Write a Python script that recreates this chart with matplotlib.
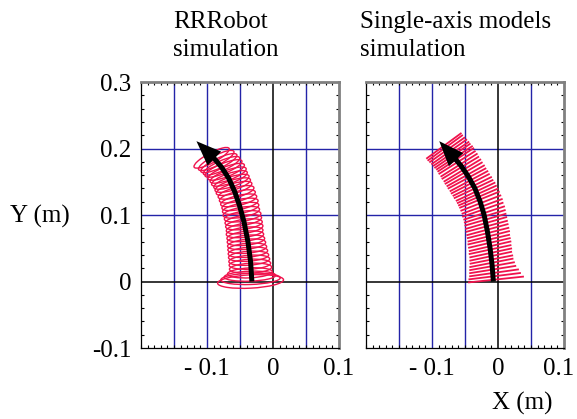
#!/usr/bin/env python3
"""End-effector paths: RRRobot model against single-axis models."""

import matplotlib

matplotlib.use("Agg")
import matplotlib.pyplot as plt
import numpy as np
from matplotlib.collections import LineCollection
from matplotlib.patches import Ellipse
from matplotlib.ticker import FixedFormatter, FixedLocator, MultipleLocator
from matplotlib.transforms import ScaledTranslation

plt.rcParams["font.family"] = ["Liberation Serif", "DejaVu Serif"]
plt.rcParams["font.size"] = 18

RED = "#F0124C"
BLUE = "#2323A8"

# commanded path (arrow), metres; last point is the arrow tip
rr_path_x = [-0.032, -0.034, -0.038, -0.044, -0.051, -0.058, -0.067, -0.078, -0.090, -0.116]
rr_path_y = [0.000, 0.030, 0.060, 0.090, 0.115, 0.135, 0.155, 0.172, 0.186, 0.211]
sa_path_x = [-0.007, -0.009, -0.012, -0.016, -0.021, -0.027, -0.035, -0.045, -0.056, -0.067, -0.089]
sa_path_y = [0.000, 0.025, 0.050, 0.075, 0.100, 0.120, 0.140, 0.158, 0.174, 0.187, 0.211]

# RRRobot: oscillation loops along the path (centre, span, thickness, tilt)
rr_loop_x = [-0.034, -0.034, -0.035, -0.035,
             -0.034, -0.035, -0.036, -0.037, -0.038, -0.039, -0.040, -0.041,
             -0.042, -0.043, -0.043, -0.044, -0.045, -0.046, -0.048, -0.049,
             -0.050, -0.052, -0.054, -0.056, -0.059, -0.061, -0.063, -0.066,
             -0.068, -0.071, -0.075, -0.078, -0.082, -0.086, -0.093]
rr_loop_y = [0.000, 0.004, 0.008, 0.013,
             0.020, 0.026, 0.032, 0.038, 0.044, 0.050, 0.056, 0.062,
             0.068, 0.074, 0.080, 0.086, 0.092, 0.098, 0.104, 0.110,
             0.116, 0.122, 0.128, 0.134, 0.140, 0.145, 0.150, 0.155,
             0.160, 0.165, 0.170, 0.174, 0.178, 0.182, 0.186]
rr_loop_w = [0.100, 0.090, 0.078, 0.068,
             0.064, 0.063, 0.062, 0.061, 0.060, 0.059, 0.058, 0.057,
             0.056, 0.056, 0.056, 0.056, 0.056, 0.056, 0.056, 0.056,
             0.056, 0.056, 0.056, 0.056, 0.056, 0.056, 0.056, 0.057,
             0.058, 0.059, 0.060, 0.060, 0.060, 0.060, 0.060]
rr_loop_h = [0.020, 0.017, 0.015, 0.015] + [0.015] * 31
rr_loop_angle = [3, 2, 2, 3,
                 3, 3, 4, 4, 5, 5, 6, 6, 7, 7, 8, 8, 9, 9, 10, 11,
                 12, 13, 14, 15, 16, 17, 18, 19, 20, 21, 22, 24, 25, 27, 28]

# single-axis models: oscillation strokes along the path
sa_line_y = [0.003, 0.008, 0.013, 0.018, 0.023, 0.028, 0.033, 0.038, 0.043, 0.048,
             0.053, 0.058, 0.063, 0.068, 0.073, 0.078, 0.083, 0.088, 0.093, 0.098,
             0.103, 0.108, 0.113, 0.118, 0.123, 0.127, 0.131, 0.135, 0.139, 0.143,
             0.147, 0.151, 0.155, 0.159, 0.163, 0.167, 0.171, 0.175, 0.179, 0.183,
             0.186, 0.189, 0.192, 0.195, 0.198, 0.201, 0.204]
sa_line_x = [-0.003, -0.005, -0.006, -0.008, -0.009, -0.010, -0.010, -0.011, -0.011, -0.012,
             -0.012, -0.013, -0.014, -0.014, -0.015, -0.016, -0.017, -0.018, -0.019, -0.020,
             -0.021, -0.023, -0.024, -0.026, -0.028, -0.030, -0.032, -0.034, -0.037, -0.039,
             -0.042, -0.044, -0.047, -0.049, -0.052, -0.054, -0.057, -0.059, -0.062, -0.064,
             -0.066, -0.069, -0.071, -0.074, -0.077, -0.080, -0.082]
sa_line_len = [0.085, 0.080, 0.076, 0.072, 0.070, 0.068, 0.067] + [0.066] * 40
sa_line_angle = [6, 7, 8, 9, 10, 11, 11, 12, 12, 12,
                 13, 13, 13, 14, 14, 15, 15, 16, 16, 17,
                 18, 19, 20, 21, 22, 23, 24, 25, 25, 26,
                 27, 28, 28, 29, 30, 31, 31, 32, 32, 33,
                 33, 34, 34, 35, 35, 36, 36]

x_ticks = [-0.1, 0.0, 0.1]
x_labels = ["- 0.1", "0", "0.1"]
y_ticks = [-0.1, 0.0, 0.1, 0.2, 0.3]
y_labels = ["-0.1", "0", "0.1", "0.2", "0.3"]


def setup_axes(ax, show_y):
    ax.set_xlim(-0.2, 0.1)
    ax.set_ylim(-0.1, 0.3)
    for x in (-0.15, -0.1, -0.05, 0.05):
        ax.axvline(x, color=BLUE, lw=1.0, zorder=1)
    for y in (0.1, 0.2):
        ax.axhline(y, color=BLUE, lw=1.0, zorder=1)
    ax.axvline(0.0, color="black", lw=1.1, zorder=1)
    ax.axhline(0.0, color="black", lw=1.1, zorder=1)

    ax.xaxis.set_major_locator(FixedLocator(x_ticks))
    ax.xaxis.set_major_formatter(FixedFormatter(x_labels))
    ax.yaxis.set_major_locator(FixedLocator(y_ticks))
    if show_y:
        ax.yaxis.set_major_formatter(FixedFormatter(y_labels))
    else:
        ax.yaxis.set_major_formatter(FixedFormatter([""] * len(y_ticks)))
    ax.xaxis.set_minor_locator(MultipleLocator(0.01))
    ax.yaxis.set_minor_locator(MultipleLocator(0.02))
    ax.tick_params(which="both", direction="in", top=True, right=True)
    ax.tick_params(which="major", length=0, pad=7)
    ax.tick_params(which="minor", length=2.5, width=0.8)

    for side in ("top", "right"):
        ax.spines[side].set_color("#808080")
        ax.spines[side].set_linewidth(2.0)
    for side in ("left", "bottom"):
        ax.spines[side].set_color("black")
        ax.spines[side].set_linewidth(0.9)


def draw_arrow(ax, xs, ys):
    # shaft up to the head base, then a filled head to the tip
    ax.plot(xs[:-1], ys[:-1], color="black", lw=3.6, solid_capstyle="butt",
            solid_joinstyle="round", zorder=5)
    ax.annotate(
        "",
        xy=(xs[-1], ys[-1]),
        xytext=(xs[-2], ys[-2]),
        arrowprops=dict(
            arrowstyle="-|>,head_length=1.8,head_width=0.7",
            mutation_scale=10,
            lw=0,
            color="black",
            shrinkA=0,
            shrinkB=0,
        ),
        zorder=6,
    )


fig = plt.figure(figsize=(5.77, 4.19), dpi=100)
ax_rr = fig.add_axes([141 / 577, 71 / 419, 198 / 577, 266 / 419])
ax_sa = fig.add_axes([366 / 577, 71 / 419, 198 / 577, 266 / 419])
setup_axes(ax_rr, True)
setup_axes(ax_sa, False)

for x, y, w, h, a in zip(rr_loop_x, rr_loop_y, rr_loop_w, rr_loop_h, rr_loop_angle):
    ax_rr.add_patch(Ellipse((x, y), w, h, angle=a, fill=False,
                            edgecolor=RED, lw=1.0, zorder=3))
draw_arrow(ax_rr, rr_path_x, rr_path_y)

theta = np.radians(sa_line_angle)
half = 0.5 * np.asarray(sa_line_len)
cx, cy = np.asarray(sa_line_x), np.asarray(sa_line_y)
segments = np.stack([
    np.column_stack([cx - half * np.cos(theta), cy - half * np.sin(theta)]),
    np.column_stack([cx + half * np.cos(theta), cy + half * np.sin(theta)]),
], axis=1)
ax_sa.add_collection(LineCollection(segments, colors=RED, linewidths=1.3, zorder=3))
draw_arrow(ax_sa, sa_path_x, sa_path_y)

# keep the right-most "0.1" inside the canvas
last = ax_sa.get_xticklabels()[-1]
last.set_transform(last.get_transform() + ScaledTranslation(-4 / 72, 0, fig.dpi_scale_trans))

fig.text(173 / 577, 1 - 11 / 419, "RRRobot\nsimulation", ha="left", va="top", linespacing=1.35)
fig.text(360 / 577, 1 - 11 / 419, "Single-axis models\nsimulation", ha="left", va="top",
         linespacing=1.35)
fig.text(10 / 577, 1 - 216 / 419, "Y (m)", ha="left", va="center")
fig.text(522 / 577, 1 - 403 / 419, "X (m)", ha="center", va="center")

fig.savefig("out.png", dpi=100)
